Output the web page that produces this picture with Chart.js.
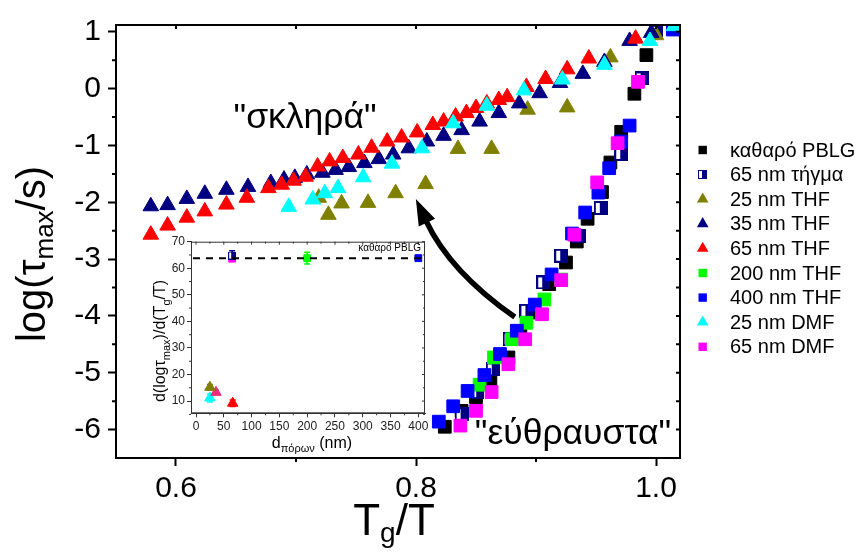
<!DOCTYPE html>
<html>
<head>
<meta charset="utf-8">
<script src="https://cdn.jsdelivr.net/npm/chart.js@4.4.1/dist/chart.umd.min.js"></script>
<style>
  html, body { margin: 0; padding: 0; background: #fff; }
  #wrap { position: relative; width: 856px; height: 552px; overflow: hidden; }
  #mainChart { position: absolute; left: 0; top: 0; }
  #insetChart { position: absolute; left: 140px; top: 230px; }
</style>
</head>
<body>
<div id="wrap">
  <canvas id="mainChart" width="856" height="552"></canvas>
  <canvas id="insetChart" width="292" height="230"></canvas>
</div>
<script>
// ===== log(tau_max) vs Tg/T for PBLG in nanopores =====

const FONT = "'Liberation Sans', Arial, Helvetica, sans-serif";
Chart.defaults.font.family = FONT;
Chart.defaults.color = '#000';

// ---- main panel axes ----
const X_TICKS = [0.6, 0.8, 1.0];
const X_MINOR = [0.7, 0.9];
const Y_TICKS = [-6, -5, -4, -3, -2, -1, 0, 1];
const Y_MINOR = [-5.5, -4.5, -3.5, -2.5, -1.5, -0.5, 0.5];

// ---- series (legend order) ----
const LABELS = ['καθαρό PBLG', '65 nm τήγμα', '25 nm THF', '35 nm THF', '65 nm THF',
                '200 nm THF', '400 nm THF', '25 nm DMF', '65 nm DMF'];

const pblgX = [0.824, 0.838, 0.850, 0.862, 0.877, 0.887, 0.896, 0.911, 0.925, 0.934, 0.943, 0.955, 0.962, 0.971, 0.982, 0.992];
const pblgY = [-5.95, -5.67, -5.43, -5.15, -4.73, -4.29, -3.94, -3.44, -3.06, -2.69, -2.29, -1.82, -1.30, -0.76, -0.09, 0.59];

const meltX = [0.838, 0.851, 0.864, 0.878, 0.892, 0.906, 0.921, 0.936, 0.954, 0.971, 0.988, 1.000];
const meltY = [-5.73, -5.34, -4.94, -4.41, -3.91, -3.41, -2.94, -2.59, -2.10, -1.15, 0.18, 1.00];

const thf25X = [0.719, 0.727, 0.738, 0.760, 0.783, 0.808, 0.835, 0.863, 0.893, 0.926, 0.962, 1.000];
const thf25Y = [-1.92, -2.22, -2.02, -2.01, -1.84, -1.68, -1.06, -1.06, -0.37, -0.33, 0.55, 0.94];

const thf35X = [0.579, 0.593, 0.609, 0.624, 0.642, 0.660, 0.679, 0.690, 0.699, 0.709, 0.722, 0.733, 0.744, 0.757, 0.769,
                0.781, 0.794, 0.809, 0.823, 0.838, 0.853, 0.869, 0.886, 0.903, 0.920, 0.939, 0.957, 0.978, 0.996];
const thf35Y = [-2.07, -2.05, -1.94, -1.85, -1.78, -1.73, -1.66, -1.60, -1.57, -1.51, -1.48, -1.43, -1.38, -1.31, -1.24,
                -1.16, -1.05, -0.93, -0.83, -0.73, -0.58, -0.43, -0.26, -0.08, 0.10, 0.26, 0.47, 0.84, 0.98];

const thf65X = [0.579, 0.593, 0.609, 0.624, 0.642, 0.659, 0.677, 0.688, 0.698, 0.708, 0.718, 0.728, 0.739, 0.752, 0.763, 0.776,
                0.788, 0.801, 0.814, 0.823, 0.833, 0.842, 0.850, 0.859, 0.869, 0.876, 0.892, 0.908, 0.926, 0.944, 0.983];
const thf65Y = [-2.57, -2.41, -2.27, -2.16, -2.04, -1.92, -1.75, -1.69, -1.62, -1.55, -1.37, -1.28, -1.22, -1.16, -1.04, -0.93,
                -0.86, -0.77, -0.64, -0.58, -0.49, -0.43, -0.34, -0.26, -0.20, -0.15, 0.03, 0.17, 0.34, 0.53, 0.88];

const thf200X = [0.853, 0.865, 0.880, 0.892, 0.907, 0.921];
const thf200Y = [-5.21, -4.73, -4.41, -4.12, -3.71, -3.36];

const thf400X = [0.819, 0.831, 0.843, 0.857, 0.870, 0.884, 0.899, 0.913, 0.930, 0.941, 0.952, 0.961, 0.971, 0.978, 1.014];
const thf400Y = [-5.86, -5.59, -5.32, -5.04, -4.67, -4.26, -3.80, -3.27, -2.55, -2.18, -1.83, -1.40, -0.93, -0.65, 1.04];

const dmf25X = [0.694, 0.714, 0.724, 0.735, 0.756, 0.780, 0.805, 0.831, 0.859, 0.890, 0.922, 0.957, 0.995, 1.015];
const dmf25Y = [-2.08, -1.95, -1.84, -1.75, -1.56, -1.32, -1.05, -0.61, -0.30, -0.03, 0.16, 0.42, 0.84, 1.10];

const dmf65X = [0.837, 0.850, 0.863, 0.877, 0.891, 0.905, 0.921, 0.932, 0.951, 0.968, 0.985];
const dmf65Y = [-5.93, -5.67, -5.34, -4.85, -4.41, -3.97, -3.37, -2.57, -1.65, -0.96, 0.12];

// ---- inset: slope d(log tau)/d(Tg/T) vs pore diameter ----
const INSET_X_TICKS = [0, 50, 100, 150, 200, 250, 300, 350, 400];
const INSET_Y_TICKS = [10, 20, 30, 40, 50, 60, 70];
const insetX   = [null, 65,   25,   36,   66,  200,  400,  25,   65];
const insetY   = [null, 64.8, 15.2, 13.3, 9.2, 63.8, 63.8, 11.2, 63.6];
const insetErr = [0,    1.8,  1.0,  0.8,  1.2, 2.2,  1.0,  1.5,  0];
const BULK_SLOPE = 63.8;

// ---- styling ----
const NAVY = '#000080';
const COLORS = ['#000000', NAVY, '#808000', NAVY, '#FF0000', '#00FF00', '#0000FF', '#00FFFF', '#FF00FF'];
const INSET_COLORS = ['#000000', NAVY, '#808000', '#EE2A7B', '#FF0000', '#00FF00', '#0000FF', '#00FFFF', '#FF00FF'];
const SHAPES = ['rect', 'half', 'triangle', 'triangle', 'triangle', 'rect', 'rect', 'triangle', 'rect'];

const SERIES_X = [pblgX, meltX, thf25X, thf35X, thf65X, thf200X, thf400X, dmf25X, dmf65X];
const SERIES_Y = [pblgY, meltY, thf25Y, thf35Y, thf65Y, thf200Y, thf400Y, dmf25Y, dmf65Y];

// navy square with a white strip on the left ("half filled")
function halfSquare(size) {
  const c = document.createElement('canvas');
  c.width = size; c.height = size;
  const g = c.getContext('2d');
  g.fillStyle = NAVY;
  g.fillRect(0, 0, size, size);
  const b = Math.max(1, Math.round(size * 0.15));
  g.fillStyle = '#fff';
  g.fillRect(b, b, Math.round(size * 0.42) - b, size - 2 * b);
  return c;
}

function styleFor(i, size) {
  return SHAPES[i] === 'half' ? halfSquare(size) : SHAPES[i];
}

// small marker painter for the hand-drawn legend
function drawMarker(ctx, shape, color, x, y, r) {
  ctx.fillStyle = color;
  ctx.beginPath();
  if (shape === 'triangle') {
    ctx.moveTo(x, y - r);
    ctx.lineTo(x + 0.866 * r, y + 0.5 * r);
    ctx.lineTo(x - 0.866 * r, y + 0.5 * r);
    ctx.closePath();
    ctx.fill();
  } else if (shape === 'half') {
    const img = halfSquare(9);
    ctx.drawImage(img, Math.round(x - 4.5), Math.round(y - 4.5));
  } else {
    ctx.rect(x - 4.2, y - 4.2, 8.4, 8.4);
    ctx.fill();
  }
}

// text with subscripts; parts = [[text, isSub], ...]
function drawRich(ctx, parts, x, y, size, subSize, subShift) {
  let total = 0;
  const widths = parts.map(([t, sub]) => {
    ctx.font = `${sub ? subSize : size}px ${FONT}`;
    const w = ctx.measureText(t).width;
    total += w;
    return w;
  });
  let cx = x - total / 2;
  parts.forEach(([t, sub], k) => {
    ctx.font = `${sub ? subSize : size}px ${FONT}`;
    ctx.fillText(t, cx, sub ? y + subShift : y);
    cx += widths[k];
  });
}

// annotation anchors (data units)
const HARD_LABEL = { x: 0.648, y: -0.69, text: '"σκληρά"' };
const FRAGILE_LABEL = { x: 0.849, y: -6.25, text: '"εύθραυστα"' };
const ARROW = { from: [0.8823, -4.02], ctrl: [0.8282, -3.22], to: [0.7999, -1.944] };

const mainDecor = {
  id: 'mainDecor',
  afterDraw(chart) {
    const ctx = chart.ctx, a = chart.chartArea;
    const xs = chart.scales.x, ys = chart.scales.y;
    ctx.save();

    // frame and minor / mirrored ticks
    ctx.strokeStyle = '#000';
    ctx.lineWidth = 2;
    ctx.strokeRect(a.left, a.top, a.right - a.left, a.bottom - a.top);
    ctx.beginPath();
    Y_MINOR.forEach(v => { const p = ys.getPixelForValue(v); ctx.moveTo(a.left - 4, p); ctx.lineTo(a.left, p); });
    X_MINOR.forEach(v => { const p = xs.getPixelForValue(v); ctx.moveTo(p, a.bottom); ctx.lineTo(p, a.bottom + 4); });
    [...X_TICKS, ...X_MINOR].forEach(v => { const p = xs.getPixelForValue(v); ctx.moveTo(p, a.top); ctx.lineTo(p, a.top + 4); });
    [...Y_TICKS, ...Y_MINOR].forEach(v => { const p = ys.getPixelForValue(v); ctx.moveTo(a.right - 4, p); ctx.lineTo(a.right, p); });
    ctx.stroke();

    // axis titles
    ctx.fillStyle = '#000';
    ctx.textBaseline = 'alphabetic';
    ctx.textAlign = 'left';
    drawRich(ctx, [['T', false], ['g', true], ['/T', false]], (a.left + a.right) / 2 - 4, 535, 44, 28, 7);
    ctx.save();
    ctx.translate(45, 254);
    ctx.rotate(-Math.PI / 2);
    drawRich(ctx, [['log(τ', false], ['max', true], ['/s)', false]], 0, 0, 40, 26, 8);
    ctx.restore();

    // regime labels
    ctx.font = `35.5px ${FONT}`;
    ctx.fillText(HARD_LABEL.text, xs.getPixelForValue(HARD_LABEL.x), ys.getPixelForValue(HARD_LABEL.y));
    ctx.fillText(FRAGILE_LABEL.text, xs.getPixelForValue(FRAGILE_LABEL.x), ys.getPixelForValue(FRAGILE_LABEL.y));

    // curved arrow
    const P = ([vx, vy]) => [xs.getPixelForValue(vx), ys.getPixelForValue(vy)];
    const [fx, fy] = P(ARROW.from), [cx, cy] = P(ARROW.ctrl), [tx, ty] = P(ARROW.to);
    let dx = tx - cx, dy = ty - cy;
    const len = Math.hypot(dx, dy); dx /= len; dy /= len;
    const headL = 26, headW = 9;
    const bx = tx - dx * headL, by = ty - dy * headL;
    ctx.lineWidth = 5.5;
    ctx.lineCap = 'butt';
    ctx.beginPath();
    ctx.moveTo(fx, fy);
    ctx.quadraticCurveTo(cx, cy, bx + dx * 2, by + dy * 2);
    ctx.stroke();
    ctx.beginPath();
    ctx.moveTo(tx, ty);
    ctx.lineTo(bx - dy * headW, by + dx * headW);
    ctx.lineTo(bx + dy * headW, by - dx * headW);
    ctx.closePath();
    ctx.fill();

    // legend
    ctx.font = `20px ${FONT}`;
    ctx.textBaseline = 'middle';
    LABELS.forEach((lab, i) => {
      const y = 150 + i * 24.6;
      drawMarker(ctx, SHAPES[i], COLORS[i], 702.7, y, 6.7);
      ctx.fillStyle = '#000';
      ctx.fillText(lab, 730, y + 1);
    });
    ctx.restore();
  }
};

new Chart(document.getElementById('mainChart'), {
  type: 'scatter',
  data: {
    datasets: LABELS.map((label, i) => ({
      label,
      data: SERIES_X[i].map((x, k) => ({ x, y: SERIES_Y[i][k] })),
      pointStyle: styleFor(i, 14),
      pointRadius: 9,
      backgroundColor: COLORS[i],
      borderColor: COLORS[i],
      borderWidth: 1,
      clip: 0,
      order: LABELS.length - i
    }))
  },
  options: {
    responsive: false,
    animation: false,
    events: [],
    layout: { padding: { top: 25, right: 176, bottom: 0, left: 0 } },
    plugins: { legend: { display: false }, tooltip: { enabled: false } },
    scales: {
      x: {
        type: 'linear', min: 0.55, max: 1.02,
        afterBuildTicks: ax => { ax.ticks = X_TICKS.map(value => ({ value })); },
        afterFit: ax => { ax.height = 94; },
        grid: { drawOnChartArea: false, tickLength: 8, tickWidth: 2, tickColor: '#000' },
        border: { color: '#000', width: 2 },
        ticks: { font: { size: 30 }, padding: 5, maxRotation: 0, callback: v => v.toFixed(1) }
      },
      y: {
        type: 'linear', min: -6.5, max: 1.12,
        afterBuildTicks: ax => { ax.ticks = Y_TICKS.map(value => ({ value })); },
        afterFit: ax => { ax.width = 116; },
        grid: { drawOnChartArea: false, tickLength: 8, tickWidth: 2, tickColor: '#000' },
        border: { color: '#000', width: 2 },
        ticks: { font: { size: 30 }, padding: 7, callback: v => String(v) }
      }
    }
  },
  plugins: [mainDecor]
});

// ---- inset chart ----
const insetDecor = {
  id: 'insetDecor',
  beforeDraw(chart) {
    const ctx = chart.ctx, a = chart.chartArea;
    ctx.save();
    ctx.fillStyle = '#fff';
    ctx.fillRect(a.left, a.top, a.right - a.left, a.bottom - a.top);
    ctx.restore();
  },
  beforeDatasetsDraw(chart) {
    const ctx = chart.ctx, xs = chart.scales.x, ys = chart.scales.y;
    ctx.save();
    ctx.lineWidth = 1.5;
    insetX.forEach((vx, i) => {
      if (vx === null || !insetErr[i]) return;
      const px = xs.getPixelForValue(vx);
      const top = ys.getPixelForValue(insetY[i] + insetErr[i]);
      const bot = ys.getPixelForValue(insetY[i] - insetErr[i]);
      ctx.strokeStyle = INSET_COLORS[i];
      ctx.beginPath();
      ctx.moveTo(px, top); ctx.lineTo(px, bot);
      ctx.moveTo(px - 3, top); ctx.lineTo(px + 3, top);
      ctx.moveTo(px - 3, bot); ctx.lineTo(px + 3, bot);
      ctx.stroke();
    });
    ctx.restore();
  },
  afterDraw(chart) {
    const ctx = chart.ctx, a = chart.chartArea;
    const xs = chart.scales.x, ys = chart.scales.y;
    ctx.save();

    // bulk reference line
    const py = ys.getPixelForValue(BULK_SLOPE);
    ctx.strokeStyle = '#000';
    ctx.lineWidth = 2;
    ctx.setLineDash([7, 6]);
    ctx.beginPath();
    ctx.moveTo(a.left + 2, py); ctx.lineTo(a.right - 2, py);
    ctx.stroke();
    ctx.setLineDash([]);

    // frame, minor and mirrored ticks
    ctx.strokeStyle = '#333';
    ctx.lineWidth = 1;
    ctx.strokeRect(a.left + 0.5, a.top + 0.5, a.right - a.left - 1, a.bottom - a.top - 1);
    ctx.beginPath();
    INSET_X_TICKS.forEach(v => {
      const p = xs.getPixelForValue(v);
      ctx.moveTo(p, a.top); ctx.lineTo(p, a.top + 3);
      const m = xs.getPixelForValue(v + 25);
      if (v < 400) { ctx.moveTo(m, a.bottom); ctx.lineTo(m, a.bottom + 2); ctx.moveTo(m, a.top); ctx.lineTo(m, a.top + 2); }
    });
    INSET_Y_TICKS.forEach(v => {
      const p = ys.getPixelForValue(v);
      ctx.moveTo(a.right - 3, p); ctx.lineTo(a.right, p);
      const m = ys.getPixelForValue(v - 5);
      ctx.moveTo(a.left - 2, m); ctx.lineTo(a.left, m);
      ctx.moveTo(a.right - 2, m); ctx.lineTo(a.right, m);
    });
    ctx.stroke();

    // label of the reference line
    ctx.fillStyle = '#000';
    ctx.font = `10px ${FONT}`;
    ctx.textAlign = 'right';
    ctx.textBaseline = 'middle';
    ctx.fillText('καθαρό PBLG', a.right - 4, a.top + 7);

    // axis titles
    ctx.textAlign = 'left';
    ctx.textBaseline = 'alphabetic';
    drawRich(ctx, [['d', false], ['πόρων', true], [' (nm)', false]], (a.left + a.right) / 2 + 4, 218, 16, 11, 4);
    ctx.save();
    ctx.translate(25, 111);
    ctx.rotate(-Math.PI / 2);
    drawRich(ctx, [['d(logτ', false], ['max', true], [')/d(T', false], ['g', true], ['/T)', false]], 0, 0, 16, 11, 5);
    ctx.restore();
    ctx.restore();
  }
};

new Chart(document.getElementById('insetChart'), {
  type: 'scatter',
  data: {
    datasets: LABELS.map((label, i) => ({
      label,
      data: insetX[i] === null ? [] : [{ x: insetX[i], y: insetY[i] }],
      pointStyle: styleFor(i, 8),
      pointRadius: SHAPES[i] === 'triangle' ? 6 : 4.8,
      backgroundColor: INSET_COLORS[i],
      borderColor: INSET_COLORS[i],
      borderWidth: 1
    }))
  },
  options: {
    responsive: false,
    animation: false,
    events: [],
    layout: { padding: { top: 11.7, right: 5.3, bottom: 0, left: 0 } },
    plugins: { legend: { display: false }, tooltip: { enabled: false } },
    scales: {
      x: {
        type: 'linear', min: -9, max: 412,
        afterBuildTicks: ax => { ax.ticks = INSET_X_TICKS.map(value => ({ value })); },
        afterFit: ax => { ax.height = 46.7; },
        grid: { drawOnChartArea: false, tickLength: 4, tickWidth: 1, tickColor: '#333' },
        border: { color: '#333', width: 1 },
        ticks: { font: { size: 12 }, color: '#222', padding: 2, maxRotation: 0 }
      },
      y: {
        type: 'linear', min: 5.4, max: 70,
        afterBuildTicks: ax => { ax.ticks = INSET_Y_TICKS.map(value => ({ value })); },
        afterFit: ax => { ax.width = 51; },
        grid: { drawOnChartArea: false, tickLength: 4, tickWidth: 1, tickColor: '#333' },
        border: { color: '#333', width: 1 },
        ticks: { font: { size: 12 }, color: '#222', padding: 2 }
      }
    }
  },
  plugins: [insetDecor]
});
</script>
</body>
</html>
